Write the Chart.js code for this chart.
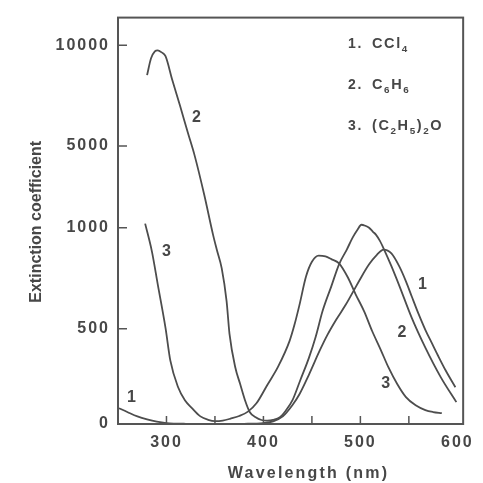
<!DOCTYPE html>
<html><head><meta charset="utf-8">
<script src="https://cdn.jsdelivr.net/npm/chart.js@4/dist/chart.umd.min.js"></script>
<style>html,body{margin:0;padding:0;background:#fff}#wrap{width:483px;height:483px;position:relative}</style>
</head><body><div id="wrap"><canvas id="c"></canvas></div>
<script>
// ---- data ----
const seriesNames = ['CCl4', 'C6H6', '(C2H5)2O'];
const ccl4Wavelength = [251,260,270,280,290,300,320,350,380,400,410,420,430,437,447,458,466,475,485,493,500,509,517,524,532,540,547,553,560,567,574,580,588,598];
const ccl4Ext        = [83,62,40,24,12,5,1,0,1,5,14,40,100,155,260,385,468,545,620,688,748,819,866,892,873,810,735,660,574,495,422,360,281,193];
const benzeneWavelength = [280,284,288,291,295,299,306,314,322,329,339,348,352,357,362,365,371,376,381,386,392,398,404,410,417,423,430,438,447,454,461,470,478,486,492,497,501,505,509,513,516,520,524,532,540,553,567,583,599];
const benzeneExt        = [8520,9350,9700,9754,9650,9460,8276,6995,5665,4539,2600,966,890,799,637,474,297,210,125,62,35,21,18,22,36,70,125,230,349,460,588,710,819,892,951,990,1145,1097,1000,980,966,936,897,810,715,554,401,245,115];
const etherWavelength = [278,285,291,299,304,312,319,326,335,343,350,358,366,375,384,393,404,415,427,432,437,444,450,457,464,470,478,487,495,504,512,521,529,538,547,557,567,575,584];
const etherExt        = [1200,882,720,505,333,193,125,85,40,22,15,18,28,42,65,110,205,300,437,520,615,760,832,862,858,845,824,755,672,585,490,390,297,210,141,98,73,63,57];
const xTickLabels = [300, 400, 500, 600];
const xMinorTicks = [300, 350, 400, 450, 500, 550];
const yTickValues = [0, 500, 1000, 5000, 10000];
const legendNumbers = ['1.', '2.', '3.'];
const legendFormulas = [
  [{t:'CCl'},{t:'4',sub:true}],
  [{t:'C'},{t:'6',sub:true},{t:'H'},{t:'6',sub:true}],
  [{t:'(C'},{t:'2',sub:true},{t:'H'},{t:'5',sub:true},{t:')'},{t:'2',sub:true},{t:'O'}]
];
const curveLabelText = ['1','2','3','1','2','3'];
const curveLabelX = [264, 331, 300, 564, 543, 526];
const curveLabelY = [140, 6400, 882, 719, 479, 212];

// ---- broken (piecewise linear) y axis as drawn in the figure ----
const yBreaks = [0, 500, 1000, 5000, 10000];
const yBreakUnits = [0, 0.96, 1.98, 2.805, 3.82];
const yUnitMax = 4.10;
function toUnit(v) {
  let i = 0;
  while (i < yBreaks.length - 2 && v > yBreaks[i + 1]) i++;
  const f = (v - yBreaks[i]) / (yBreaks[i + 1] - yBreaks[i]);
  return yBreakUnits[i] + f * (yBreakUnits[i + 1] - yBreakUnits[i]);
}
function fromUnit(u) {
  let i = 0;
  while (i < yBreakUnits.length - 2 && u > yBreakUnits[i + 1]) i++;
  const f = (u - yBreakUnits[i]) / (yBreakUnits[i + 1] - yBreakUnits[i]);
  return yBreaks[i] + f * (yBreaks[i + 1] - yBreaks[i]);
}
class BrokenLinearScale extends Chart.LinearScale {
  getPixelForValue(value) { return this.getPixelForDecimal(toUnit(value) / yUnitMax); }
  getValueForPixel(pixel) { return fromUnit(this.getDecimalForPixel(pixel) * yUnitMax); }
}
BrokenLinearScale.id = 'brokenLinear';
BrokenLinearScale.defaults = Chart.LinearScale.defaults;
Chart.register(BrokenLinearScale);

const INK = '#474747';
const FONT = '"Liberation Sans", Arial, sans-serif';
const toPts = (xs, ys) => xs.map((x, i) => ({x, y: ys[i]}));

function drawRich(ctx, x, y, parts, size) {
  for (const p of parts) {
    const s = p.sub ? size * 0.68 : size;
    ctx.font = `bold ${s}px ${FONT}`;
    ctx.fillText(p.t, x, p.sub ? y + size * 0.28 : y);
    x += ctx.measureText(p.t).width;
  }
}

const decor = {
  id: 'decor',
  beforeUpdate(chart) { chart.ctx.letterSpacing = '2px'; },
  beforeDraw(chart) {
    const c = chart.ctx;
    c.save(); c.fillStyle = '#fff'; c.fillRect(0, 0, chart.width, chart.height); c.restore();
    c.letterSpacing = '2px';
  },
  afterDatasetsDraw(chart) {
    const c = chart.ctx, a = chart.chartArea, xs = chart.scales.x, ys = chart.scales.y;
    c.save();
    c.strokeStyle = '#555'; c.lineWidth = 2;
    c.strokeRect(a.left, a.top, a.right - a.left, a.bottom - a.top);
    c.lineWidth = 1.5;
    c.beginPath();
    for (const v of xMinorTicks) { const px = xs.getPixelForValue(v); c.moveTo(px, a.bottom); c.lineTo(px, a.bottom - 8); }
    for (const v of yTickValues.slice(1)) { const py = ys.getPixelForValue(v); c.moveTo(a.left, py); c.lineTo(a.left + 9, py); }
    c.stroke();
    c.restore();
  },
  afterDraw(chart) {
    const c = chart.ctx, a = chart.chartArea, xs = chart.scales.x, ys = chart.scales.y;
    c.save();
    c.fillStyle = INK;
    // x title
    c.letterSpacing = '2.2px';
    c.font = `bold 16px ${FONT}`;
    c.textAlign = 'center'; c.textBaseline = 'middle';
    c.fillText('Wavelength (nm)', a.left + (a.right - a.left) * 0.552, 474);
    // y title
    c.letterSpacing = '0px';
    c.save();
    c.translate(37, (a.top + a.bottom) / 2 + 1);
    c.rotate(-Math.PI / 2);
    c.fillText('Extinction coefficient', 0, 0);
    c.restore();
    // curve numbers
    c.font = `bold 16px ${FONT}`;
    curveLabelText.forEach((t, i) => {
      c.fillText(t, xs.getPixelForValue(curveLabelX[i]), ys.getPixelForValue(curveLabelY[i]));
    });
    // legend text
    c.textAlign = 'left'; c.textBaseline = 'alphabetic';
    c.letterSpacing = '1.6px';
    const baseY = [48, 89, 130];
    legendNumbers.forEach((n, i) => {
      c.font = `bold 14px ${FONT}`;
      c.fillText(n, a.left + 230, baseY[i]);
      drawRich(c, a.left + 254, baseY[i], legendFormulas[i], 14.5);
    });
    c.restore();
  }
};

const lineStyle = {borderColor: '#4d4d4d', borderWidth: 1.8, pointRadius: 0, cubicInterpolationMode: 'monotone', fill: false};

new Chart(document.getElementById('c'), {
  type: 'line',
  data: {
    datasets: [
      Object.assign({label: seriesNames[0], data: toPts(ccl4Wavelength, ccl4Ext)}, lineStyle),
      Object.assign({label: seriesNames[1], data: toPts(benzeneWavelength, benzeneExt)}, lineStyle),
      Object.assign({label: seriesNames[2], data: toPts(etherWavelength, etherExt)}, lineStyle)
    ]
  },
  options: {
    responsive: true, maintainAspectRatio: false, animation: false,
    devicePixelRatio: 1,
    layout: {padding: {left: 0, right: 19, top: 14, bottom: 0}},
    plugins: {legend: {display: false}, tooltip: {enabled: false}},
    scales: {
      x: {
        type: 'linear', min: 250, max: 606, bounds: 'data',
        afterBuildTicks: s => { s.ticks = xTickLabels.map(v => ({value: v})); },
        afterFit: s => { s.height = 59; },
        grid: {display: false, drawTicks: false},
        border: {display: false},
        ticks: {autoSkip: false, maxRotation: 0, padding: 9, color: INK, font: {family: FONT, size: 16, weight: 'bold'}, callback: v => String(v)}
      },
      y: {
        type: 'brokenLinear', min: 0, max: 13000, bounds: 'data',
        afterBuildTicks: s => { s.ticks = yTickValues.map(v => ({value: v})); },
        afterFit: s => { s.width = 118; },
        grid: {display: false, drawTicks: false},
        border: {display: false},
        ticks: {autoSkip: false, padding: 8, color: INK, font: {family: FONT, size: 16, weight: 'bold'}, callback: v => String(v)}
      }
    }
  },
  plugins: [decor]
});
</script>
</body></html>
